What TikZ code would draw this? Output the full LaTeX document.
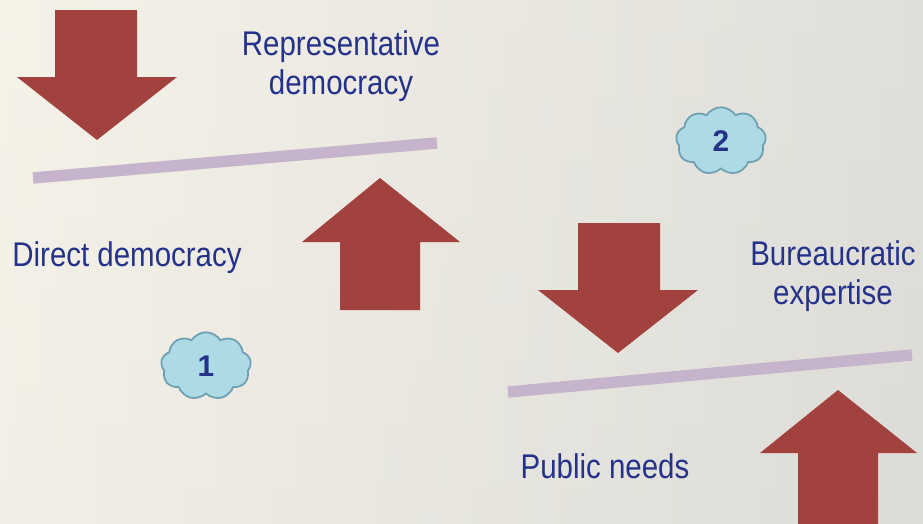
\documentclass[tikz,border=0pt]{standalone}
\usepackage{fontspec}
\setmainfont{Liberation Sans}
\newfontfamily\narrowsans[FakeStretch=0.86]{Liberation Sans}
\usetikzlibrary{shapes.symbols}

\definecolor{arrowred}{RGB}{162,66,62}
\definecolor{barlilac}{RGB}{198,180,204}
\definecolor{textblue}{RGB}{36,50,138}
\definecolor{cloudfill}{RGB}{174,218,230}
\definecolor{cloudline}{RGB}{108,160,178}
\definecolor{bgtop}{RGB}{245,242,232}
\definecolor{bgbottom}{RGB}{210,210,208}

\begin{document}
\begin{tikzpicture}[x=0.02cm, y=-0.02cm,
    lbl/.style={text=textblue, align=center, font=\narrowsans\fontsize{19.5}{22.5}\selectfont},
    bar/.style={barlilac, line width=6.5pt, line cap=butt},
    bubble/.style={cloud, cloud puffs=9, cloud puff arc=115, aspect=1.3,
      draw=cloudline, fill=cloudfill, line width=1pt,
      minimum width=1.8cm, minimum height=1.35cm, inner sep=0pt,
      text=textblue, font=\fontsize{17}{17}\selectfont\bfseries}]

    % background
    \shade[top color=bgtop, bottom color=bgtop!75!bgbottom] (0,0) rectangle (923,524);
    \shade[left color=bgtop, right color=bgbottom, opacity=0.6] (0,0) rectangle (923,524);
    \useasboundingbox (0,0) rectangle (923,524);
    \clip (0,0) rectangle (923,524);

    % big arrows
    \fill[arrowred] (55,10) -- (137,10) -- (137,77) -- (177,77) -- (97,140)
      -- (17,77) -- (55,77) -- cycle;
    \fill[arrowred] (340,310) -- (420,310) -- (420,242) -- (460,242) -- (380,178)
      -- (302,242) -- (340,242) -- cycle;
    \fill[arrowred] (578,223) -- (660,223) -- (660,290) -- (698,290) -- (618,353)
      -- (538,290) -- (578,290) -- cycle;
    \fill[arrowred] (798,530) -- (878,530) -- (878,453) -- (917,453) -- (838,390)
      -- (760,453) -- (798,453) -- cycle;

    % balance bars
    \coordinate (b1l) at (33,178);
    \coordinate (b1r) at (437,143);
    \coordinate (b2l) at (508,392);
    \coordinate (b2r) at (912,355);
    \draw[bar] (b1l) -- (b1r);
    \draw[bar] (b2l) -- (b2r);

    % labels
    \node[lbl] (rep) at (341,66) {Representative\\democracy};
    \node[lbl] (direct) at (127,258) {Direct democracy};
    \node[lbl] (bureau) at (833,276) {Bureaucratic\\expertise};
    \node[lbl] (public) at (605,466) {Public needs};

    % numbered clouds
    \node[bubble] (one) at (206,366) {1};
    \node[bubble] (two) at (721,141) {2};
\end{tikzpicture}
\end{document}
